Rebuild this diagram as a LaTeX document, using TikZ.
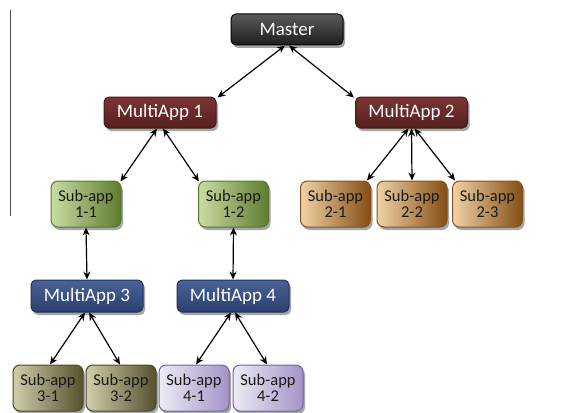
\documentclass[tikz,border=0pt]{standalone}
\usepackage{fontspec}
\setmainfont{Carlito}
\usetikzlibrary{shadows,arrows.meta}
\definecolor{mtop}{HTML}{5A5A5A}
\definecolor{mbot}{HTML}{1E1E1E}
\definecolor{rtop}{HTML}{7A3533}
\definecolor{rbot}{HTML}{56201E}
\definecolor{btop}{HTML}{4A6296}
\definecolor{bbot}{HTML}{2A3F6E}
\definecolor{gl}{HTML}{CADCA2}
\definecolor{gr}{HTML}{5E7C2E}
\definecolor{gb}{HTML}{5A7630}
\definecolor{tl}{HTML}{F0D2A6}
\definecolor{tr}{HTML}{844E14}
\definecolor{tb}{HTML}{83501E}
\definecolor{kl}{HTML}{D2CEAA}
\definecolor{kr}{HTML}{55512F}
\definecolor{kb}{HTML}{4A472C}
\definecolor{ll}{HTML}{EEEAF4}
\definecolor{lr}{HTML}{A494C6}
\definecolor{lb}{HTML}{7464A0}
\tikzset{
  boxbase/.style={rounded corners=5pt, line width=1pt, inner sep=0pt,
    drop shadow={shadow xshift=2pt, shadow yshift=-3pt, opacity=0.35, fill=black}},
  bigbox/.style={boxbase, minimum width=112pt, minimum height=31pt, text=white,
    font=\fontsize{19}{22}\selectfont},
  masterbox/.style={bigbox, draw=black, top color=mtop, bottom color=mbot},
  redbox/.style={bigbox, draw=rbot!80!black, top color=rtop, bottom color=rbot},
  bluebox/.style={bigbox, draw=bbot!80!black, top color=btop, bottom color=bbot, minimum height=32pt},
  subbox/.style={boxbase, rounded corners=7pt, minimum width=70pt, minimum height=46pt,
    align=center, text=black!90, font=\fontsize{16.5}{16.5}\selectfont, shading angle=0},
  greenbox/.style={subbox, draw=gb, left color=gl, right color=gr},
  tanbox/.style={subbox, draw=tb, left color=tl, right color=tr},
  khakibox/.style={subbox, draw=kb, left color=kl, right color=kr},
  lavbox/.style={subbox, draw=lb, left color=ll, right color=lr},
  link/.style={line width=1.2pt, {Stealth[length=8pt,width=7pt]}-{Stealth[length=8pt,width=7pt]}}
}
\begin{document}
\begin{tikzpicture}[x=1pt,y=-1pt]
\useasboundingbox (0,0) rectangle (569,412);
\draw[line width=0.8pt, black!70] (10.5,10) coordinate (ltop) -- (10.5,216) coordinate (lbot);
\node[masterbox] (M) at (287,29.5) {Master};
\node[redbox] (A1) at (160,112.5) {MultiApp 1};
\node[redbox] (A2) at (411.5,112.5) {MultiApp 2};
\node[greenbox] (S11) at (86,204) {Sub-app\\1-1};
\node[greenbox] (S12) at (233.5,204) {Sub-app\\1-2};
\node[tanbox] (S21) at (335.5,204) {Sub-app\\2-1};
\node[tanbox] (S22) at (412,204) {Sub-app\\2-2};
\node[tanbox] (S23) at (487.5,204) {Sub-app\\2-3};
\node[bluebox] (A3) at (87,296) {MultiApp 3};
\node[bluebox] (A4) at (233,296) {MultiApp 4};
\node[khakibox] (S31) at (48,388) {Sub-app\\3-1};
\node[khakibox] (S32) at (121,388) {Sub-app\\3-2};
\node[lavbox] (S41) at (194,388) {Sub-app\\4-1};
\node[lavbox] (S42) at (268,388) {Sub-app\\4-2};
\draw[link] ([xshift=-2pt]M.south) -- ([xshift=1pt,yshift=-1pt]A1.north east);
\draw[link] ([xshift=2pt]M.south) -- ([xshift=-1pt,yshift=-1pt]A2.north west);
\draw[link] ([xshift=-3pt]A1.south) -- ([xshift=-1pt,yshift=-1pt]S11.north east);
\draw[link] ([xshift=3pt]A1.south) -- ([xshift=1pt,yshift=-1pt]S12.north west);
\draw[link] ([xshift=-3pt]A2.south) -- ([xshift=-4pt,yshift=0pt]S21.north east);
\draw[link] (A2.south) -- (S22.north);
\draw[link] ([xshift=3pt]A2.south) -- ([xshift=3pt,yshift=0pt]S23.north west);
\draw[link] (S11.south) -- (A3.north);
\draw[link] (S12.south) -- (A4.north);
\draw[link] ([xshift=-2pt]A3.south) -- ([xshift=2pt]S31.north);
\draw[link] ([xshift=2pt]A3.south) -- ([xshift=-1pt]S32.north);
\draw[link] ([xshift=-2pt]A4.south) -- ([xshift=2pt]S41.north);
\draw[link] ([xshift=2pt]A4.south) -- ([xshift=-1pt]S42.north);
\end{tikzpicture}
\end{document}
